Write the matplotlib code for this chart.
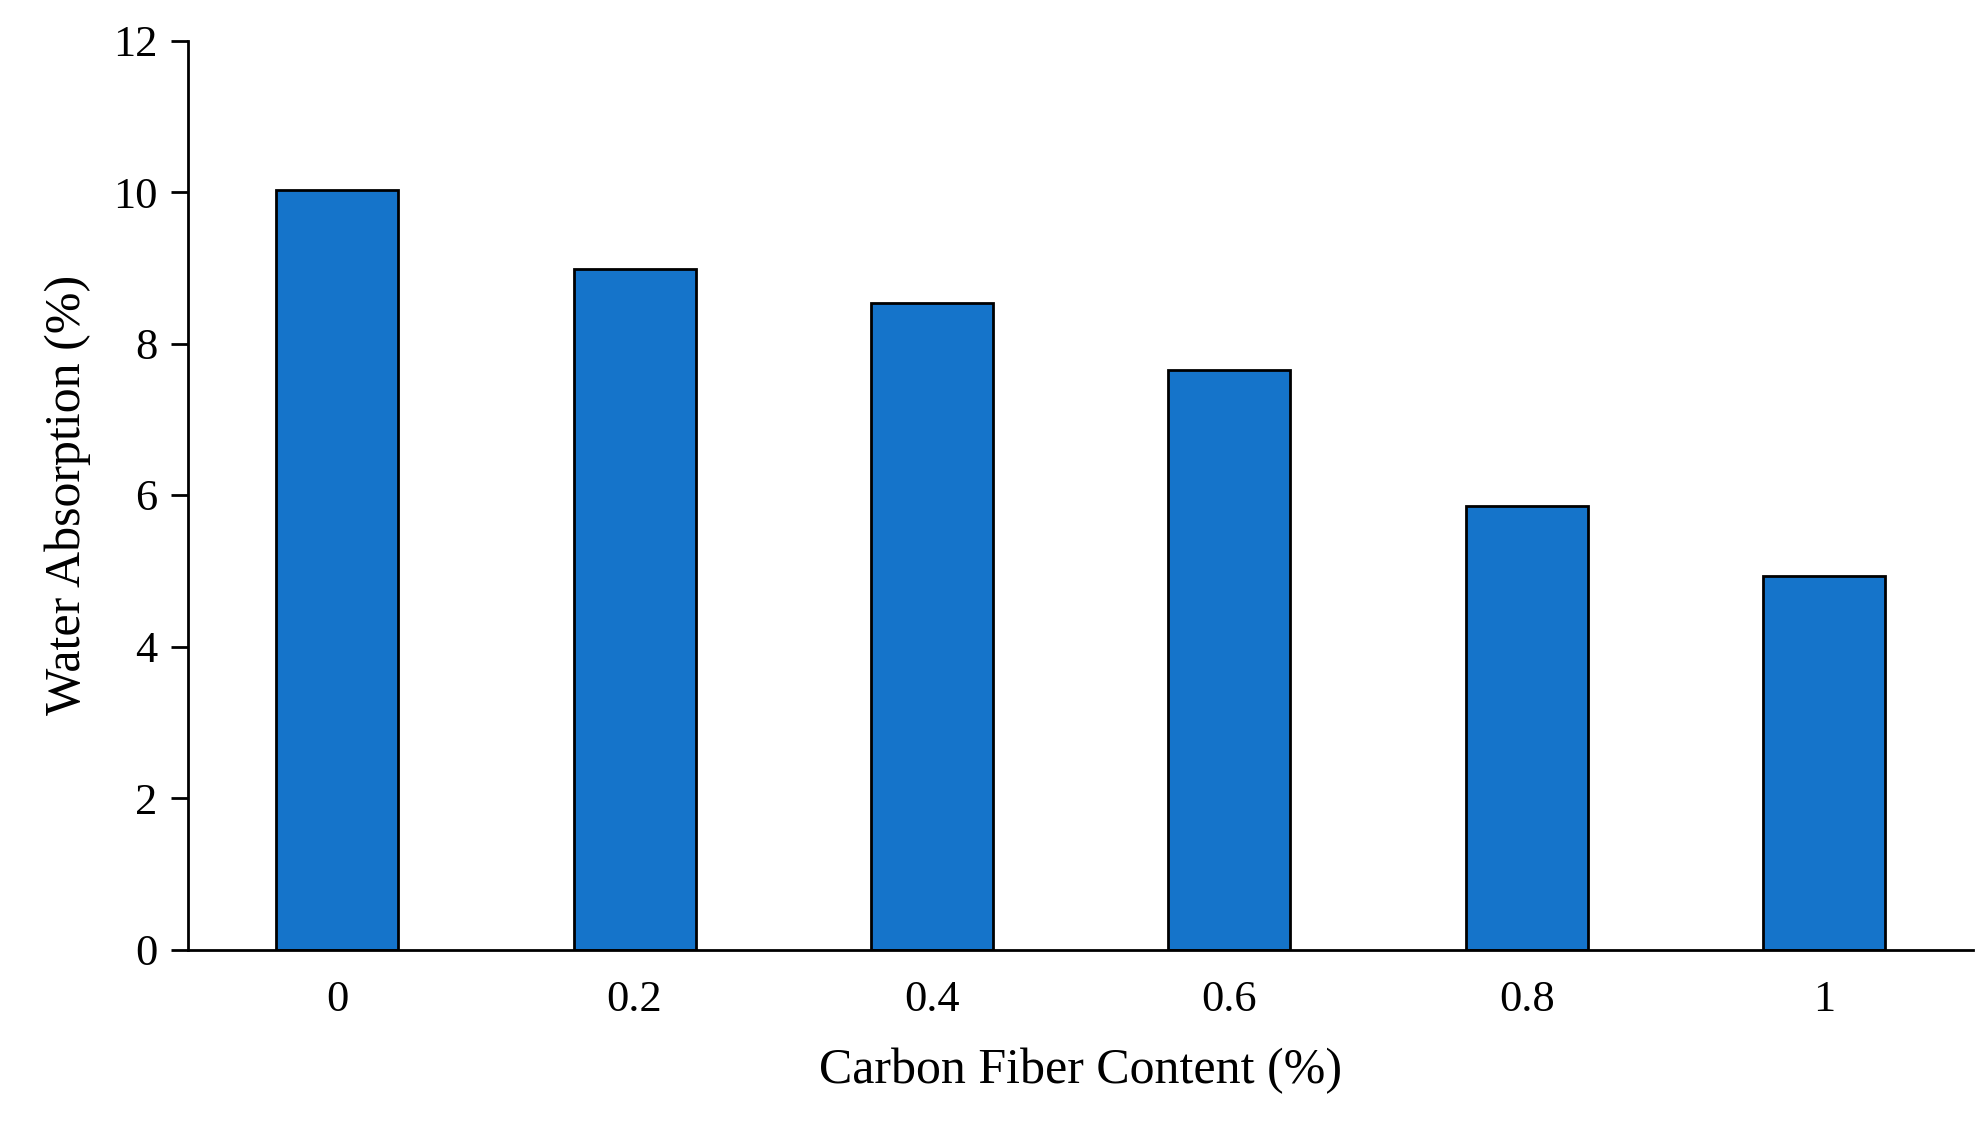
import matplotlib
matplotlib.use("Agg")
import matplotlib.pyplot as plt

categories = ["0", "0.2", "0.4", "0.6", "0.8", "1"]
values = [10.03, 8.99, 8.54, 7.65, 5.86, 4.93]
yticks = [0, 2, 4, 6, 8, 10, 12]

plt.rcParams['font.family'] = ['Liberation Serif', 'DejaVu Serif']
fig = plt.figure(figsize=(19.83, 11.25), dpi=100)
ax = fig.add_axes([0.095, 0.156, 0.9, 0.808])
x = range(len(categories))
ax.bar(x, values, width=0.41, color='#1574CA', edgecolor='black', linewidth=2)
ax.set_xlim(-0.5, 5.5)
ax.set_ylim(0, 12)
ax.set_yticks(yticks)
ax.set_xticks(list(x))
ax.set_xticklabels(categories)
ax.tick_params(axis='x', length=0, labelsize=32, pad=22)
ax.tick_params(axis='y', direction='out', length=12, width=2, labelsize=32, pad=10)
for s in ['top', 'right']:
    ax.spines[s].set_visible(False)
for s in ['left', 'bottom']:
    ax.spines[s].set_linewidth(2)
ax.set_xlabel('Carbon Fiber Content (%)', fontsize=36, labelpad=20)
ax.set_ylabel('Water Absorption (%)', fontsize=36, labelpad=16)
fig.savefig('out.png', dpi=100)
